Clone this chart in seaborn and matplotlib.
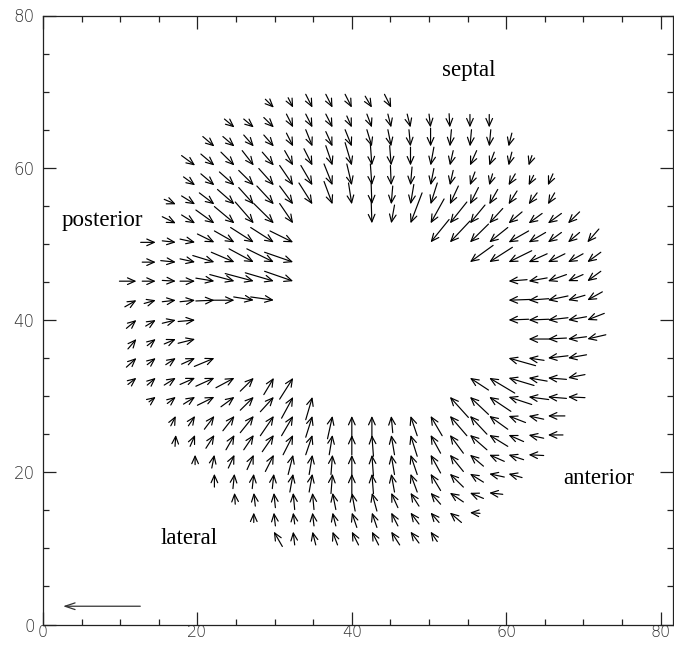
import matplotlib
matplotlib.use("Agg")
import matplotlib.pyplot as plt
import seaborn as sns
import pandas as pd

# Sample grid (data units): column positions c = 0..23, row positions r = 0..22
GRID_X = [12.1, 14.6, 17.2, 19.7, 22.2, 24.8, 27.3, 29.9, 32.4, 34.9, 37.5, 40.0,
          42.6, 45.1, 47.6, 50.2, 52.7, 55.3, 57.8, 60.3, 62.9, 65.4, 68.0, 70.5]
GRID_Y = [12.2, 14.7, 17.3, 19.8, 22.3, 24.9, 27.4, 29.9, 32.4, 35.0, 37.5, 40.0,
          42.6, 45.1, 47.6, 50.2, 52.7, 55.2, 57.7, 60.3, 62.8, 65.3, 67.9]

# Displacement vectors per row: (column, u, v); arrow tip sits on the grid point
R00 = [(7, -1.1, 1.95), (8, -0.2, 1.75), (9, -0.43, 1.75), (10, -0.65, 1.75), (11, -0.87, 1.75),
       (12, -0.87, 1.75), (13, -1.1, 1.75), (14, -1.1, 1.5), (15, -0.87, 1.3)]
R01 = [(6, 0.0, 1.3), (7, -0.2, 1.75), (8, -0.2, 1.5), (9, -0.2, 1.75), (10, -0.43, 1.75),
       (11, -0.65, 1.95), (12, -0.65, 1.95), (13, -0.87, 1.75), (14, -1.1, 1.5), (15, -1.1, 1.3),
       (16, -1.5, 1.3), (17, -1.3, 0.1)]
R02 = [(5, -0.1, 1.5), (6, -0.2, 1.75), (7, -0.2, 1.95), (8, -0.2, 2.2), (9, -0.2, 2.2),
       (10, -0.43, 2.2), (11, -0.43, 2.4), (12, -0.65, 2.4), (13, -0.87, 1.95), (14, -1.1, 1.75),
       (15, -1.3, 1.5), (16, -1.75, 1.2), (17, -1.75, 0.74), (18, -1.75, 0.2)]
R03 = [(4, 0.0, 1.75), (5, 0.2, 1.95), (6, 0.2, 1.95), (7, 0.2, 1.95), (8, 0.43, 2.4),
       (9, 0.43, 2.4), (10, 0.2, 2.6), (11, 0.0, 2.6), (12, -0.2, 2.6), (13, -0.43, 2.4),
       (14, -0.87, 2.4), (15, -1.3, 2.2), (16, -1.75, 1.75), (17, -1.75, 1.1), (18, -1.95, 0.43),
       (19, -1.75, 0.5)]
R04 = [(3, 0.0, 1.3), (4, 0.34, 1.75), (5, 0.8, 1.75), (6, 0.87, 1.95), (7, 1.1, 2.2),
       (8, 0.65, 2.6), (9, 0.43, 2.6), (10, 0.2, 2.6), (11, 0.0, 2.8), (12, -0.2, 2.8),
       (13, -0.43, 2.6), (14, -0.87, 2.6), (15, -1.3, 2.4), (16, -1.75, 2.2), (17, -1.75, 1.5),
       (18, -1.95, 0.87), (19, -1.95, 0.65), (20, -1.95, 0.1)]
R05 = [(2, 0.1, 1.5), (3, 0.65, 1.5), (4, 1.1, 1.75), (5, 1.1, 1.95), (6, 1.3, 1.95),
       (7, 1.5, 2.2), (8, 1.3, 2.6), (9, 0.87, 2.6), (10, 0.43, 2.6), (11, 0.0, 2.6),
       (12, -0.2, 2.8), (13, -0.43, 2.6), (14, -0.87, 2.8), (15, -1.3, 2.4), (16, -1.75, 2.4),
       (17, -2.2, 1.95), (18, -2.4, 1.5), (19, -1.95, 0.87), (20, -1.95, 0.43), (21, -1.95, 0.0)]
R06 = [(2, 0.65, 1.3), (3, 0.87, 1.3), (4, 1.3, 1.75), (5, 1.5, 1.95), (6, 1.75, 2.2),
       (7, 1.75, 2.6), (8, 1.5, 2.6), (9, 0.87, 2.8), (10, 0.65, 3.0), (11, 0.0, 3.0),
       (12, 0.0, 2.8), (13, -0.2, 2.2), (14, -0.87, 2.6), (15, -1.5, 2.6), (16, -2.2, 2.6),
       (17, -2.2, 2.4), (18, -2.4, 1.75), (19, -2.2, 0.87), (20, -1.95, 0.43), (21, -2.2, 0.0)]
R07 = [(1, 0.87, 0.65), (2, 1.1, 0.87), (3, 1.5, 0.95), (4, 2.2, 1.1), (5, 1.75, 1.3),
       (6, 1.75, 1.75), (7, 1.75, 1.95), (8, 1.5, 2.8), (9, 0.87, 3.0),
       (16, -2.4, 2.7), (17, -2.4, 2.3), (18, -2.8, 1.9), (19, -3.0, 1.0), (20, -2.6, 0.35),
       (21, -2.4, 0.2), (22, -2.2, 0.1)]
R08 = [(0, 1.1, 0.87), (1, 1.1, 0.95), (2, 1.5, 0.95), (3, 1.95, 0.87), (4, 2.4, 1.1),
       (5, 2.4, 1.3), (6, 1.75, 1.75), (7, 1.3, 2.2), (8, 1.75, 2.8),
       (17, -2.4, 1.6), (18, -3.3, 2.0), (19, -3.3, 1.0), (20, -2.4, 0.43), (21, -2.4, 0.2),
       (22, -2.2, -0.43)]
R09 = [(0, 1.3, 1.2), (1, 1.1, 0.87), (2, 1.3, 0.87), (3, 1.75, 0.8), (4, 2.6, 1.1),
       (19, -3.5, 1.0), (20, -2.0, 0.3), (21, -2.6, -0.3), (22, -2.4, -0.43)]
R10 = [(0, 1.1, 1.3), (1, 1.1, 0.87), (2, 1.5, 0.65), (3, 2.2, 0.56),
       (20, -2.6, 0.0), (21, -2.4, -0.13), (22, -2.4, -0.3), (23, -2.4, -0.56)]
R11 = [(0, 1.3, 1.1), (1, 1.3, 0.8), (2, 1.75, 0.43), (3, 2.2, 0.2),
       (19, -2.6, -0.1), (20, -2.6, -0.1), (21, -2.6, -0.3), (22, -2.4, -0.43), (23, -2.2, -0.87)]
R12 = [(0, 1.5, 0.87), (1, 1.5, 0.43), (2, 1.75, 0.2), (3, 1.95, 0.2), (4, 2.4, 0.1),
       (5, 2.8, 0.0), (6, 2.6, -0.43), (7, 3.0, -0.43),
       (19, -2.8, -0.1), (20, -2.6, -0.2), (21, -2.6, -0.56), (22, -2.2, -0.65), (23, -1.95, -1.1)]
R13 = [(0, 2.2, 0.0), (1, 1.75, 0.0), (2, 1.75, -0.1), (3, 1.95, 0.0), (4, 2.4, -0.4),
       (5, 3.2, -0.87), (6, 3.7, -1.0), (7, 3.7, -1.1), (8, 3.7, -1.3),
       (19, -2.4, -0.2), (20, -2.4, -0.43), (21, -2.4, -0.87), (22, -1.95, -0.87), (23, -1.75, -1.3)]
R14 = [(1, 1.75, 0.0), (2, 1.95, -0.2), (3, 1.95, -0.43), (4, 2.8, -0.87), (5, 3.0, -1.3),
       (6, 3.2, -1.75), (7, 3.5, -1.75), (8, 3.7, -1.3),
       (17, -3.0, -2.2), (18, -3.0, -1.95), (19, -3.0, -1.5), (20, -2.4, -1.1), (21, -2.2, -1.1),
       (22, -1.95, -1.1), (23, -1.75, -1.3)]
R15 = [(1, 1.95, 0.0), (2, 1.75, -0.2), (3, 1.95, -0.43), (4, 2.2, -1.1), (5, 2.6, -1.5),
       (6, 3.0, -1.95), (7, 3.0, -1.95), (8, 3.0, -1.5),
       (15, -2.4, -3.0), (16, -2.6, -2.8), (17, -2.4, -2.4), (18, -2.4, -1.95), (19, -2.6, -1.5),
       (20, -2.2, -1.3), (21, -1.75, -1.3), (22, -1.5, -1.3), (23, -1.5, -1.75)]
R16 = [(2, 1.75, -0.87), (3, 1.75, -1.1), (4, 2.4, -1.75), (5, 2.6, -2.2), (6, 2.4, -2.8),
       (7, 2.6, -2.6), (8, 1.75, -2.6),
       (12, 0.1, -3.2), (13, -0.43, -2.4), (14, -1.5, -4.0), (15, -1.75, -3.2), (16, -2.2, -2.8),
       (17, -1.95, -2.4), (18, -1.75, -1.95), (19, -1.75, -1.5), (20, -1.75, -1.3), (21, -1.75, -1.3),
       (22, -1.5, -1.5)]
R17 = [(2, 1.5, -0.65), (3, 1.75, -1.1), (4, 1.95, -1.5), (5, 2.2, -1.95), (6, 1.95, -2.2),
       (7, 2.2, -2.4), (8, 1.75, -2.4), (9, 1.75, -2.8), (10, 1.1, -3.0), (11, 0.43, -2.8),
       (12, 0.1, -2.8), (13, -0.2, -2.4), (14, -0.43, -2.6), (15, -0.87, -2.8), (16, -1.1, -2.4),
       (17, -1.1, -2.2), (18, -1.1, -1.95), (19, -1.1, -1.75), (20, -1.1, -1.5), (21, -0.87, -1.5)]
R18 = [(3, 1.5, -1.1), (4, 1.75, -1.5), (5, 1.95, -1.75), (6, 1.95, -1.95), (7, 1.95, -2.2),
       (8, 1.75, -2.6), (9, 1.5, -2.6), (10, 1.1, -2.8), (11, 0.65, -2.8), (12, 0.2, -2.8),
       (13, 0.1, -2.6), (14, -0.2, -2.4), (15, -0.43, -2.2), (16, -0.43, -1.95), (17, -0.65, -1.75),
       (18, -0.43, -1.5), (19, -0.87, -1.5), (20, -0.65, -1.3), (21, -0.65, -1.5)]
R19 = [(3, 1.75, -1.3), (4, 1.75, -1.5), (5, 1.75, -1.75), (6, 1.5, -1.95), (7, 1.5, -1.75),
       (8, 1.1, -1.95), (9, 1.1, -2.2), (10, 0.87, -2.6), (11, 0.87, -3.0), (12, 0.2, -2.8),
       (13, 0.2, -2.6), (14, 0.0, -2.4), (15, -0.43, -2.4), (16, -0.43, -1.95), (17, -0.87, -1.95),
       (18, -0.65, -1.75), (19, -0.43, -1.75), (20, -0.43, -1.3)]
R20 = [(4, 1.5, -1.3), (5, 1.5, -1.3), (6, 1.3, -1.5), (7, 1.3, -1.5), (8, 0.87, -1.75),
       (9, 0.87, -2.2), (10, 0.87, -1.95), (11, 0.87, -2.2), (12, 0.65, -2.2), (13, 0.43, -2.2),
       (14, 0.2, -2.2), (15, 0.0, -2.4), (16, -0.2, -2.2), (17, -0.2, -2.2), (18, -0.2, -2.2),
       (19, -0.43, -1.75)]
R21 = [(5, 1.3, -1.1), (6, 1.3, -1.1), (7, 1.3, -1.3), (8, 0.87, -1.75), (9, 0.87, -1.75),
       (10, 0.87, -1.75), (11, 0.65, -1.5), (12, 0.65, -1.75), (13, 0.43, -1.75), (14, 0.43, -1.75),
       (15, 0.2, -1.75), (16, 0.1, -1.8), (17, 0.0, -1.7), (18, 0.0, -1.7)]
R22 = [(7, 1.1, -1.1), (8, 0.65, -1.3), (9, 0.87, -1.75), (10, 0.87, -1.75), (11, 0.87, -1.75),
       (12, 0.87, -1.5), (13, 0.87, -1.75)]

ROWS = [R00, R01, R02, R03, R04, R05, R06, R07, R08, R09, R10, R11,
        R12, R13, R14, R15, R16, R17, R18, R19, R20, R21, R22]

# Reference arrow (length 10) and region names
REF_TIP = (2.6, 2.4)
REF_VEC = (-10.0, 0.0)
REGION_LABELS = ["septal", "posterior", "anterior", "lateral"]
REGION_POS = [(55.2, 72.1), (7.7, 52.4), (72.0, 18.4), (18.9, 10.6)]

records = []
for r, row in enumerate(ROWS):
    for c, u, v in row:
        records.append({"x": GRID_X[c], "y": GRID_Y[r], "u": u, "v": v})
field = pd.DataFrame(records)

sns.set_theme(style="ticks")
plt.rcParams["font.family"] = ["DejaVu Sans"]

fig = plt.figure(figsize=(6.74, 6.46), dpi=100)
ax = fig.add_axes([43 / 674, 21.5 / 646, 630 / 674, 609 / 646])
ax.set_facecolor("white")

arrow_kw = dict(arrowstyle="->,head_length=0.45,head_width=0.2", lw=0.85,
                color="black", shrinkA=0, shrinkB=0)
for _, a in field.iterrows():
    ax.annotate("", xy=(a.x, a.y), xytext=(a.x - a.u, a.y - a.v),
                arrowprops=arrow_kw, annotation_clip=False)

ax.annotate("", xy=REF_TIP, xytext=(REF_TIP[0] - REF_VEC[0], REF_TIP[1] - REF_VEC[1]),
            arrowprops=dict(arrowstyle="->,head_length=0.6,head_width=0.2", lw=0.9,
                            color="#333333", shrinkA=0, shrinkB=0))

for label, (tx, ty) in zip(REGION_LABELS, REGION_POS):
    ax.text(tx, ty, label, ha="center", va="baseline", fontsize=16.5,
            family="Liberation Serif", color="black")

ax.set_xlim(0, 81.6)
ax.set_ylim(0, 80)
ax.set_xticks([0, 20, 40, 60, 80])
ax.set_yticks([0, 20, 40, 60, 80])
ax.set_xticks(range(0, 81, 5), minor=True)
ax.set_yticks(range(0, 81, 5), minor=True)
ax.tick_params(which="both", direction="in", top=True, right=True,
               color="#222222", width=0.9)
ax.tick_params(which="major", length=9.5, labelsize=12, labelcolor="#333333")
ax.tick_params(which="minor", length=4.5)
ax.tick_params(axis="y", pad=6)
ax.tick_params(axis="x", pad=0.5, labelsize=11.5)
for lab in ax.get_xticklabels() + ax.get_yticklabels():
    lab.set_fontweight("light")
for s in ax.spines.values():
    s.set_visible(True)
    s.set_color("#222222")
    s.set_linewidth(0.9)

fig.savefig("out.png", dpi=100, facecolor="white")
